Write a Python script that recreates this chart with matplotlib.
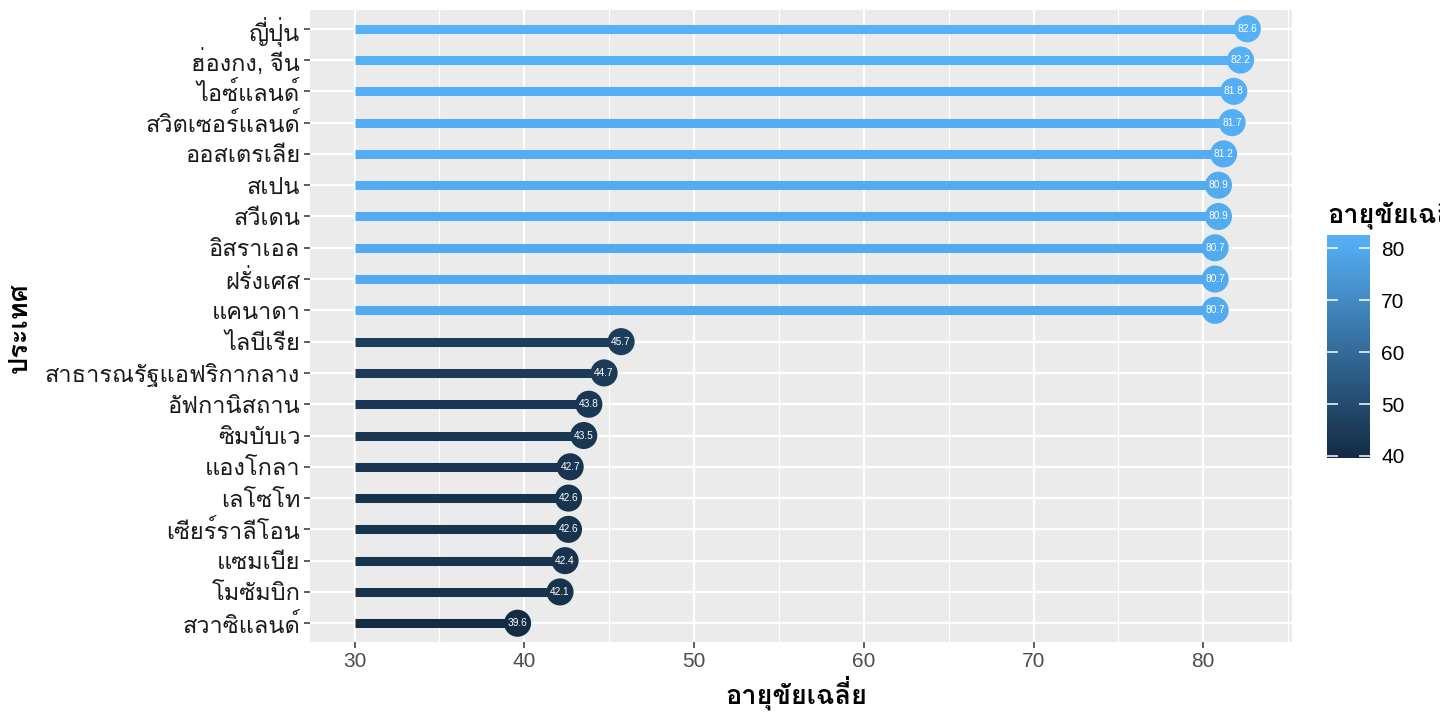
import matplotlib
matplotlib.use('Agg')
import matplotlib.pyplot as plt
import numpy as np
from matplotlib import font_manager
from matplotlib.ft2font import FT2Font
from matplotlib.colors import LinearSegmentedColormap, Normalize

# data, top row first
countries = ['ญี่ปุ่น', 'ฮ่องกง, จีน', 'ไอซ์แลนด์', 'สวิตเซอร์แลนด์', 'ออสเตรเลีย',
             'สเปน', 'สวีเดน', 'อิสราเอล', 'ฝรั่งเศส', 'แคนาดา',
             'ไลบีเรีย', 'สาธารณรัฐแอฟริกากลาง', 'อัฟกานิสถาน', 'ซิมบับเว', 'แองโกลา',
             'เลโซโท', 'เซียร์ราลีโอน', 'แซมเบีย', 'โมซัมบิก', 'สวาซิแลนด์']
life_exp = [82.6, 82.2, 81.8, 81.7, 81.2, 80.9, 80.9, 80.7, 80.7, 80.7,
            45.7, 44.7, 43.8, 43.5, 42.7, 42.6, 42.6, 42.4, 42.1, 39.6]
seg_start = 30
x_ticks = [30, 40, 50, 60, 70, 80]
cbar_ticks = [40, 50, 60, 70, 80]


def find_thai_font():
    # look for any installed font that has Thai glyphs
    found = []
    for f in font_manager.fontManager.ttflist:
        try:
            if 0x0E01 in FT2Font(f.fname).get_charmap():
                found.append(f.name)
        except Exception:
            pass
    for name in found:
        if 'Looped' not in name:
            return name
    return found[0] if found else 'DejaVu Sans'


thai = find_thai_font()
plt.rcParams['font.family'] = ['Liberation Sans', thai, 'DejaVu Sans']

cmap = LinearSegmentedColormap.from_list('gg', ['#132B43', '#56B1F7'])
norm = Normalize(vmin=min(life_exp), vmax=max(life_exp))

fig = plt.figure(figsize=(14.4, 7.2), dpi=100)
ax = fig.add_axes([310 / 1440, 1 - 642 / 720, 982 / 1440, 632 / 720])
ax.set_facecolor('#EBEBEB')

ypos = np.arange(len(countries))[::-1]
colors = cmap(norm(np.array(life_exp)))

ax.hlines(ypos, seg_start, life_exp, colors=colors, linewidth=6.5, zorder=2)
ax.scatter(life_exp, ypos, c=life_exp, cmap=cmap, norm=norm, s=380,
           edgecolors='none', zorder=3)
for v, y in zip(life_exp, ypos):
    ax.text(v, y, f'{v:.1f}', color='white', fontsize=7.3,
            ha='center', va='center', zorder=4)

rng = max(life_exp) - seg_start
ax.set_xlim(seg_start - 0.05 * rng, max(life_exp) + 0.05 * rng)
ax.set_ylim(-0.6, len(countries) - 0.4)
ax.set_xticks(x_ticks)
ax.set_xticks([35, 45, 55, 65, 75, 85], minor=True)
ax.set_yticks(ypos)
ax.set_yticklabels(countries)

ax.grid(which='major', color='white', linewidth=1.6)
ax.grid(which='minor', axis='x', color='white', linewidth=0.8)
ax.set_axisbelow(True)
for s in ax.spines.values():
    s.set_visible(False)
ax.tick_params(which='major', length=4, width=1.1, color='#333333', pad=3)
ax.tick_params(axis='x', labelcolor='#4D4D4D', labelsize=15)
ax.tick_params(axis='y', labelcolor='#1A1A1A', labelsize=17)
ax.tick_params(which='minor', length=0)

fig.text(796 / 1440, 1 - 693 / 720, 'อายุขัยเฉลี่ย', fontsize=19.5,
         fontweight='bold', ha='center', va='center')
fig.text(20 / 1440, 1 - 328 / 720, 'ประเทศ', fontsize=19.5, fontweight='bold',
         rotation=90, ha='center', va='center')

# colour bar legend
cax = fig.add_axes([1327 / 1440, 1 - 458 / 720, 43 / 1440, 223 / 720])
cb = fig.colorbar(plt.cm.ScalarMappable(norm=norm, cmap=cmap), cax=cax,
                  ticks=cbar_ticks)
cb.outline.set_visible(False)
cax.tick_params(color='white', direction='in', length=8, width=1.1,
                left=True, right=True, labelsize=15, pad=8)
fig.text(1327 / 1440, 1 - 212 / 720, 'อายุขัยเฉลี่ย', fontsize=19.5,
         fontweight='bold', ha='left', va='center')

fig.savefig('out.png', dpi=100)
